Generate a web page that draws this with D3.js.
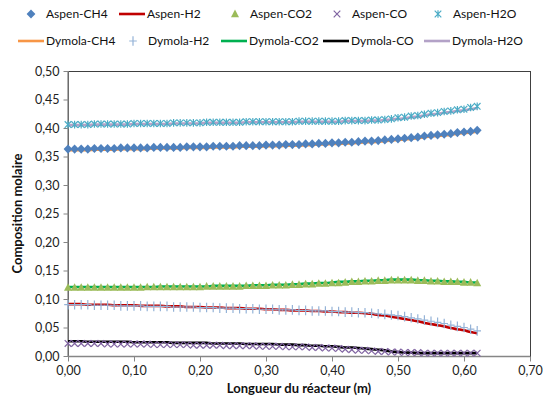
<!DOCTYPE html>
<html><head><meta charset="utf-8">
<script src="https://cdn.jsdelivr.net/npm/d3@7/dist/d3.min.js"></script>
<style>body{margin:0;background:#fff;} svg{display:block;}</style>
</head><body>
<svg id="c" width="551" height="407"></svg>
<script>
const xPos = [0.00,0.01,0.02,0.03,0.04,0.05,0.06,0.07,0.08,0.09,0.10,0.11,0.12,0.13,0.14,0.15,0.16,0.17,0.18,0.19,0.20,0.21,0.22,0.23,0.24,0.25,0.26,0.27,0.28,0.29,0.30,0.31,0.32,0.33,0.34,0.35,0.36,0.37,0.38,0.39,0.40,0.41,0.42,0.43,0.44,0.45,0.46,0.47,0.48,0.49,0.50,0.51,0.52,0.53,0.54,0.55,0.56,0.57,0.58,0.59,0.60,0.61,0.62];

const aspenCH4 = [0.363,0.363,0.363,0.363,0.364,0.364,0.364,0.364,0.365,0.365,0.365,0.365,0.365,0.366,0.366,0.366,0.366,0.366,0.367,0.367,0.367,0.367,0.368,0.368,0.368,0.368,0.369,0.369,0.369,0.369,0.370,0.370,0.370,0.371,0.371,0.371,0.372,0.372,0.373,0.373,0.374,0.374,0.375,0.375,0.376,0.377,0.377,0.378,0.379,0.380,0.381,0.382,0.383,0.384,0.386,0.387,0.388,0.389,0.390,0.392,0.393,0.394,0.396];
const dymolaCH4 = [0.361,0.361,0.361,0.361,0.362,0.362,0.362,0.362,0.363,0.363,0.363,0.363,0.363,0.364,0.364,0.364,0.364,0.364,0.365,0.365,0.365,0.365,0.366,0.366,0.366,0.366,0.367,0.367,0.367,0.367,0.368,0.368,0.368,0.369,0.369,0.369,0.370,0.370,0.371,0.371,0.372,0.372,0.373,0.373,0.374,0.375,0.375,0.376,0.377,0.378,0.379,0.380,0.381,0.382,0.384,0.385,0.386,0.387,0.388,0.390,0.391,0.392,0.394];

const aspenH2 = [0.091,0.091,0.091,0.090,0.090,0.090,0.090,0.089,0.089,0.089,0.089,0.088,0.088,0.088,0.088,0.087,0.087,0.087,0.086,0.086,0.086,0.085,0.085,0.085,0.084,0.084,0.084,0.083,0.083,0.083,0.082,0.082,0.081,0.081,0.080,0.080,0.080,0.079,0.079,0.078,0.078,0.077,0.077,0.076,0.076,0.075,0.074,0.072,0.071,0.069,0.067,0.065,0.063,0.061,0.058,0.056,0.054,0.052,0.049,0.047,0.045,0.042,0.040];
const dymolaH2 = [0.090,0.090,0.090,0.090,0.089,0.089,0.089,0.089,0.088,0.088,0.088,0.088,0.087,0.087,0.087,0.087,0.086,0.086,0.086,0.086,0.085,0.085,0.085,0.084,0.084,0.084,0.083,0.083,0.083,0.082,0.082,0.082,0.081,0.081,0.081,0.080,0.080,0.079,0.079,0.079,0.078,0.078,0.077,0.077,0.076,0.076,0.075,0.074,0.073,0.072,0.071,0.069,0.067,0.065,0.063,0.061,0.059,0.057,0.054,0.052,0.050,0.047,0.044];

const aspenCO2 = [0.120,0.120,0.120,0.120,0.120,0.120,0.120,0.120,0.120,0.120,0.120,0.120,0.121,0.121,0.121,0.121,0.121,0.121,0.121,0.121,0.121,0.122,0.122,0.122,0.122,0.122,0.122,0.123,0.123,0.123,0.123,0.124,0.124,0.124,0.125,0.125,0.126,0.126,0.127,0.127,0.128,0.128,0.129,0.130,0.130,0.131,0.131,0.132,0.132,0.133,0.133,0.133,0.133,0.132,0.132,0.131,0.131,0.130,0.130,0.130,0.129,0.129,0.128];
const dymolaCO2 = [0.121,0.121,0.121,0.121,0.121,0.121,0.121,0.121,0.121,0.121,0.121,0.121,0.121,0.121,0.122,0.122,0.122,0.122,0.122,0.122,0.122,0.122,0.123,0.123,0.123,0.123,0.123,0.123,0.124,0.124,0.124,0.125,0.125,0.125,0.126,0.126,0.127,0.127,0.128,0.128,0.129,0.130,0.130,0.131,0.131,0.132,0.132,0.133,0.133,0.134,0.134,0.134,0.134,0.133,0.133,0.132,0.132,0.131,0.131,0.130,0.130,0.129,0.129];

const aspenCO = [0.022,0.022,0.022,0.022,0.022,0.022,0.021,0.021,0.021,0.021,0.021,0.021,0.021,0.020,0.020,0.020,0.020,0.020,0.020,0.019,0.019,0.019,0.019,0.019,0.018,0.018,0.018,0.018,0.018,0.017,0.017,0.017,0.017,0.016,0.016,0.016,0.016,0.015,0.015,0.014,0.014,0.013,0.012,0.011,0.010,0.010,0.009,0.008,0.008,0.007,0.007,0.006,0.006,0.006,0.005,0.005,0.005,0.005,0.005,0.005,0.005,0.005,0.005];
const dymolaCO = [0.026,0.026,0.026,0.025,0.025,0.025,0.025,0.025,0.025,0.025,0.024,0.024,0.024,0.024,0.024,0.024,0.023,0.023,0.023,0.023,0.023,0.023,0.022,0.022,0.022,0.022,0.022,0.021,0.021,0.021,0.021,0.021,0.020,0.020,0.020,0.019,0.019,0.018,0.018,0.017,0.017,0.016,0.015,0.015,0.014,0.013,0.012,0.011,0.010,0.008,0.007,0.006,0.006,0.005,0.005,0.005,0.005,0.005,0.005,0.005,0.005,0.005,0.005];

const aspenH2O = [0.406,0.406,0.406,0.406,0.407,0.407,0.407,0.407,0.407,0.407,0.408,0.408,0.408,0.408,0.408,0.408,0.409,0.409,0.409,0.409,0.409,0.410,0.410,0.410,0.410,0.410,0.410,0.411,0.411,0.411,0.411,0.411,0.411,0.411,0.411,0.412,0.412,0.412,0.412,0.412,0.412,0.412,0.413,0.413,0.413,0.413,0.414,0.414,0.415,0.416,0.418,0.419,0.421,0.422,0.424,0.426,0.427,0.429,0.430,0.432,0.433,0.436,0.438];
const dymolaH2O = [0.405,0.405,0.405,0.405,0.406,0.406,0.406,0.406,0.406,0.406,0.407,0.407,0.407,0.407,0.407,0.407,0.408,0.408,0.408,0.408,0.408,0.409,0.409,0.409,0.409,0.409,0.409,0.410,0.410,0.410,0.410,0.410,0.410,0.410,0.410,0.411,0.411,0.411,0.411,0.411,0.411,0.411,0.412,0.412,0.412,0.412,0.413,0.413,0.414,0.415,0.416,0.417,0.419,0.420,0.422,0.424,0.425,0.427,0.428,0.430,0.431,0.433,0.435];

const xTicks = [0,0.1,0.2,0.3,0.4,0.5,0.6,0.7];
const yTicks = [0,0.05,0.1,0.15,0.2,0.25,0.3,0.35,0.4,0.45,0.5];
const xTitle = "Longueur du réacteur (m)";
const yTitle = "Composition molaire";

const series = [
  {name:"Aspen-CH4", vals:aspenCH4, type:"marker", shape:"diamond", color:"#4F81BD"},
  {name:"Aspen-H2", vals:aspenH2, type:"line", color:"#C00000"},
  {name:"Aspen-CO2", vals:aspenCO2, type:"marker", shape:"triangle", color:"#9BBB59"},
  {name:"Aspen-CO", vals:aspenCO, type:"marker", shape:"x", color:"#8064A2"},
  {name:"Aspen-H2O", vals:aspenH2O, type:"marker", shape:"star", color:"#4BACC6"},
  {name:"Dymola-CH4", vals:dymolaCH4, type:"line", color:"#F79646"},
  {name:"Dymola-H2", vals:dymolaH2, type:"marker", shape:"plus", color:"#95B3D7"},
  {name:"Dymola-CO2", vals:dymolaCO2, type:"line", color:"#00B050"},
  {name:"Dymola-CO", vals:dymolaCO, type:"line", color:"#000000"},
  {name:"Dymola-H2O", vals:dymolaH2O, type:"line", color:"#B3A2C7"}
];

const svg = d3.select("#c");
const L = 68, R = 530, T = 71, B = 356;
const x = d3.scaleLinear().domain([0,0.7]).range([L,R]);
const y = d3.scaleLinear().domain([0,0.5]).range([B,T]);
const font = "Lato, 'Open Sans', sans-serif";
const fmt = v => d3.format(".2f")(v).replace(".", ",");

svg.append("rect").attr("x",L+0.5).attr("y",T+0.5).attr("width",R-L).attr("height",B-T)
  .attr("fill","none").attr("stroke","#404040").attr("stroke-width",1);

const yAxis = svg.append("g").attr("transform",`translate(${L+0.5},0)`)
  .call(d3.axisLeft(y).tickValues(yTicks).tickFormat(fmt).tickSize(5).tickPadding(4));
const xAxis = svg.append("g").attr("transform",`translate(0,${B+0.5})`)
  .call(d3.axisBottom(x).tickValues(xTicks).tickFormat(fmt).tickSize(5).tickPadding(5));
[yAxis,xAxis].forEach(a=>{
  a.select(".domain").attr("stroke","#868686").attr("stroke-width",1.3);
  a.selectAll(".tick line").attr("stroke","#868686");
  a.selectAll("text").attr("font-family",font).attr("font-size","12.5px").attr("fill","#222");
});
yAxis.select(".domain").attr("d",`M-0.5,${T}V${B}`);
xAxis.select(".domain").attr("d",`M${L},0H${R}`);

svg.append("text").attr("x",(L+R)/2).attr("y",393).attr("text-anchor","middle")
  .attr("font-family",font).attr("font-weight","bold").attr("font-size","13px").attr("fill","#111").text(xTitle);
svg.append("text").attr("transform",`translate(22,${(T+B)/2}) rotate(-90)`).attr("text-anchor","middle")
  .attr("font-family",font).attr("font-weight","bold").attr("font-size","13px").attr("fill","#111").text(yTitle);

const line = d3.line().x((d,i)=>x(xPos[i])).y(d=>y(d)).curve(d3.curveMonotoneX);
const g = svg.append("g");

function marker(sel, shape, color, cx, cy){
  if(shape==="diamond"){
    sel.append("path").attr("d",`M${cx},${cy-4.6}L${cx+4.4},${cy}L${cx},${cy+4.6}L${cx-4.4},${cy}Z`).attr("fill",color);
  } else if(shape==="triangle"){
    sel.append("path").attr("d",`M${cx},${cy-4.4}L${cx+4},${cy+3.2}L${cx-4},${cy+3.2}Z`).attr("fill",color);
  } else if(shape==="x"){
    sel.append("path").attr("d",`M${cx-3.3},${cy-3.3}L${cx+3.3},${cy+3.3}M${cx-3.3},${cy+3.3}L${cx+3.3},${cy-3.3}`).attr("stroke",color).attr("stroke-width",1.2).attr("fill","none");
  } else if(shape==="star"){
    sel.append("path").attr("d",`M${cx-3.3},${cy-3.3}L${cx+3.3},${cy+3.3}M${cx-3.3},${cy+3.3}L${cx+3.3},${cy-3.3}M${cx},${cy-3.8}L${cx},${cy+3.8}`).attr("stroke",color).attr("stroke-width",1.2).attr("fill","none");
  } else if(shape==="plus"){
    sel.append("path").attr("d",`M${cx-3.8},${cy}L${cx+3.8},${cy}M${cx},${cy-4.8}L${cx},${cy+4.8}`).attr("stroke",color).attr("stroke-width",1.2).attr("fill","none");
  }
}

series.filter(s=>s.type==="line").forEach(s=>{
  g.append("path").datum(s.vals).attr("d",line).attr("fill","none")
    .attr("stroke",s.color).attr("stroke-width",2.6);
});
series.filter(s=>s.type==="marker").forEach(s=>{
  const mg = g.append("g");
  s.vals.forEach((v,i)=>marker(mg,s.shape,s.color,x(xPos[i]),y(v)));
});

const legPos = [
  [31,14],[132,14],[235,14],[337,14],[438,14],
  [31,41],[133,41],[234,41],[336,41],[437,41]
];
series.forEach((s,i)=>{
  const [cx,cy] = legPos[i];
  const lg = svg.append("g");
  if(s.type==="line"){
    lg.append("line").attr("x1",cx-13).attr("x2",cx+13).attr("y1",cy).attr("y2",cy)
      .attr("stroke",s.color).attr("stroke-width",2.6);
  } else {
    marker(lg,s.shape,s.color,cx,cy);
  }
  lg.append("text").attr("x",cx+15).attr("y",cy).attr("dy","0.35em")
    .attr("font-family",font).attr("font-size","12px").attr("fill","#111").text(s.name);
});
</script>
</body></html>
